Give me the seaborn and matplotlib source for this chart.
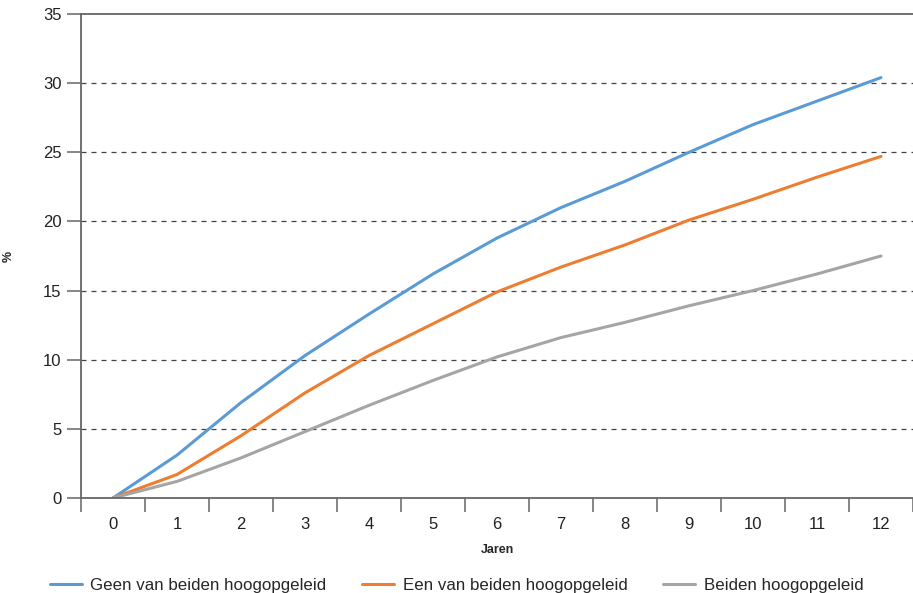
import pandas as pd
import numpy as np
import seaborn as sns
import matplotlib.pyplot as plt
from matplotlib.lines import Line2D

# Values
jaren = list(range(13))
geen = [0, 3.1, 6.9, 10.3, 13.3, 16.2, 18.8, 21.0, 22.9, 25.0, 27.0, 28.7, 30.4]
een = [0, 1.7, 4.5, 7.6, 10.3, 12.6, 14.9, 16.7, 18.3, 20.1, 21.6, 23.2, 24.7]
beiden = [0, 1.2, 2.9, 4.8, 6.7, 8.5, 10.2, 11.6, 12.7, 13.9, 15.0, 16.2, 17.5]

series_names = ["Geen van beiden hoogopgeleid",
                "Een van beiden hoogopgeleid",
                "Beiden hoogopgeleid"]
colors = ["#5B9BD5", "#ED7D31", "#A5A5A5"]

df = pd.DataFrame({
    "Jaren": jaren * 3,
    "pct": geen + een + beiden,
    "groep": [series_names[0]] * 13 + [series_names[1]] * 13 + [series_names[2]] * 13,
})

sns.set_style("white")
plt.rcParams["font.family"] = ["Liberation Sans", "DejaVu Sans"]

fig = plt.figure(figsize=(9.13, 5.93), dpi=100)
ax = fig.add_axes([0.0887, 0.1602, 0.9113, 0.8162])

sns.lineplot(data=df, x="Jaren", y="pct", hue="groep", hue_order=series_names,
             palette=colors, linewidth=2.2, ax=ax, legend=False)

ax.set_xlim(-0.5, 12.5)
ax.set_ylim(0, 35)
ax.set_yticks(range(0, 36, 5))
ax.set_xticks(jaren)
ax.set_xticks(np.arange(-0.5, 13, 1), minor=True)

for y in range(5, 35, 5):
    ax.axhline(y, color="#444444", linestyle=(0, (4, 4)), linewidth=0.9, zorder=0)

for side in ["left", "bottom", "top"]:
    ax.spines[side].set_color("#666666")
    ax.spines[side].set_linewidth(1.3)
ax.spines["right"].set_visible(False)

ax.tick_params(axis="y", which="major", length=10, width=1.1, color="#666666",
               labelsize=12, labelcolor="#222222", pad=4, left=True)
ax.tick_params(axis="x", which="major", length=0, labelsize=12,
               labelcolor="#222222", pad=14)
ax.tick_params(axis="x", which="minor", length=10, width=1.1, color="#666666",
               bottom=True)

ax.set_xlabel("Jaren", fontsize=9, fontweight="bold", labelpad=8)
ax.set_ylabel("%", fontsize=9, fontweight="bold")
ax.yaxis.set_label_coords(-0.08, 0.5)

handles = [Line2D([0], [0], color=c, linewidth=2.2) for c in colors]
fig.legend(handles, series_names, loc="lower center", ncol=3, frameon=False,
           fontsize=12.2, bbox_to_anchor=(0.5, -0.025), handlelength=1.9,
           columnspacing=2.1, handletextpad=0.5)

plt.savefig("out.png", dpi=100)
plt.close()
